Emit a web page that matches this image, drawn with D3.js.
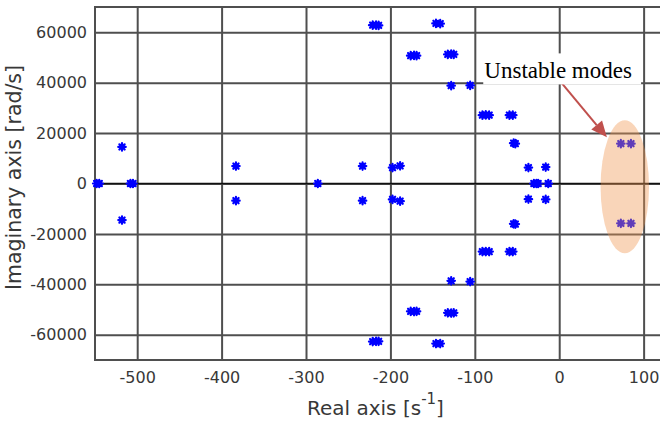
<!DOCTYPE html>
<html>
<head>
<meta charset="utf-8">
<script src="https://cdn.jsdelivr.net/npm/d3@7"></script>
<style>
  html, body { margin: 0; padding: 0; background: #fff; }
  svg { display: block; }
</style>
</head>
<body>
<svg id="chart" width="660" height="421"></svg>
<script>
// Eigenvalues (poles) of the system: real part [1/s] and imaginary part [rad/s]
const poleRe = [
  -548, -545, -508, -505, -518, -518,
  -383, -383, -286,
  -233, -233,
  -221, -217, -214, -221, -217, -214,
  -197.5, -188.5, -197.5, -188.5,
  -176, -172, -169, -176, -172, -169,
  -146, -141, -146, -141,
  -132, -128, -125, -132, -128, -125,
  -128, -105.5, -128, -105.5,
  -91, -87, -83, -91, -87, -83,
  -59, -55, -59, -55,
  -54, -52, -54, -52,
  -36.5, -16, -36.5, -16,
  -30, -27, -25, -13,
  73, 85, 73, 85
];
const poleIm = [
  0, 0, 0, 0, 14500, -14500,
  6900, -6800, 0,
  6900, -6800,
  62800, 62800, 62700, -62700, -62600, -62600,
  6300, 7000, -6300, -7000,
  50700, 50800, 50700, -50700, -50800, -50700,
  63500, 63400, -63500, -63500,
  51200, 51300, 51200, -51300, -51400, -51300,
  38800, 38900, -38600, -38900,
  27100, 27200, 27100, -27000, -27000, -27000,
  27100, 27100, -27000, -27000,
  16000, 15800, -16000, -16100,
  6300, 6500, -6200, -6300,
  0, 0, 0, 0,
  15800, 15800, -15800, -15800
];

const xTicks = [-500, -400, -300, -200, -100, 0, 100];
const yTicks = [-60000, -40000, -20000, 0, 20000, 40000, 60000];

const annotationText = "Unstable modes";

const svg = d3.select("#chart");
const plotLeft = 95, plotTop = 7, plotBottom = 360, plotRight = 660.5;

const x = d3.scaleLinear().domain([-550, 120]).range([plotLeft, plotRight]);
const y = d3.scaleLinear().domain([-70000, 70000]).range([plotBottom, plotTop]);

const gridColor = "#4f4f4f";
const labelColor = "#383838";
const font = "'DejaVu Sans', Verdana, sans-serif";
const plain = d => String(d);   // hyphen-minus labels

// Vertical gridlines + x tick labels
const gx = svg.append("g")
  .attr("transform", `translate(0,${plotBottom})`)
  .call(d3.axisBottom(x).tickValues(xTicks).tickSize(-(plotBottom - plotTop)).tickPadding(12).tickFormat(plain));
gx.select(".domain").remove();
gx.selectAll(".tick line").attr("stroke", gridColor).attr("stroke-width", 2);
gx.selectAll(".tick text").attr("fill", labelColor).style("font-family", font).style("font-size", "16px");

// Horizontal gridlines + y tick labels
const gy = svg.append("g")
  .attr("transform", `translate(${plotLeft},0)`)
  .call(d3.axisLeft(y).tickValues(yTicks).tickSize(-(plotRight - plotLeft)).tickPadding(8).tickFormat(plain));
gy.select(".domain").remove();
gy.selectAll(".tick line").attr("stroke", gridColor).attr("stroke-width", 2);
gy.selectAll(".tick text").attr("fill", labelColor).style("font-family", font).style("font-size", "16px");

// Zero line of the imaginary axis
svg.append("line")
  .attr("x1", plotLeft).attr("x2", plotRight)
  .attr("y1", y(0)).attr("y2", y(0))
  .attr("stroke", "#111").attr("stroke-width", 1.5);

// Plot frame (left, top, bottom)
svg.append("path")
  .attr("d", `M${plotRight},${plotTop}H${plotLeft}V${plotBottom}H${plotRight}`)
  .attr("fill", "none").attr("stroke", gridColor).attr("stroke-width", 2);

// Eight-armed star marker
const star = {
  draw(ctx, size) {
    const r = Math.sqrt(size) / 2;
    const d = r * Math.SQRT1_2;
    ctx.moveTo(-r, 0); ctx.lineTo(r, 0);
    ctx.moveTo(0, -r); ctx.lineTo(0, r);
    ctx.moveTo(-d, -d); ctx.lineTo(d, d);
    ctx.moveTo(-d, d); ctx.lineTo(d, -d);
  }
};

const poles = poleRe.map((re, i) => ({ re, im: poleIm[i] }));
svg.append("g")
  .selectAll("path")
  .data(poles)
  .join("path")
  .attr("d", d3.symbol().type(star).size(56))
  .attr("transform", d => `translate(${x(d.re)},${y(d.im)})`)
  .attr("fill", "none")
  .attr("stroke", "#0000ff")
  .attr("stroke-width", 2.2)
  .attr("stroke-linecap", "round");

// Highlight of the unstable pole pairs
svg.append("ellipse")
  .attr("cx", x(77.7)).attr("cy", y(-1300))
  .attr("rx", x(77.7 + 28.7) - x(77.7))
  .attr("ry", y(-1300) - y(25100))
  .attr("fill", "rgb(240,150,80)")
  .attr("fill-opacity", 0.4);

// Arrow pointing at the unstable modes
const a0 = [x(3), y(39800)], a1 = [x(56.5), y(18300)];
const ang = Math.atan2(a1[1] - a0[1], a1[0] - a0[0]);
const headLen = 16, headHalf = 7;
const base = [a1[0] - headLen * Math.cos(ang), a1[1] - headLen * Math.sin(ang)];
const arrowColor = "#c0504d";
svg.append("line")
  .attr("x1", a0[0]).attr("y1", a0[1])
  .attr("x2", base[0]).attr("y2", base[1])
  .attr("stroke", arrowColor).attr("stroke-width", 2);
svg.append("path")
  .attr("d", d3.line()([
    a1,
    [base[0] + headHalf * Math.sin(ang), base[1] - headHalf * Math.cos(ang)],
    [base[0] - headHalf * Math.sin(ang), base[1] + headHalf * Math.cos(ang)]
  ]) + "Z")
  .attr("fill", arrowColor);

// Annotation label on a white box
svg.append("rect")
  .attr("x", x(-90)).attr("y", y(51600))
  .attr("width", x(97) - x(-90))
  .attr("height", y(39300) - y(51600))
  .attr("fill", "#fff");
svg.append("text")
  .attr("x", x(-88.7)).attr("y", y(42000))
  .attr("fill", "#000")
  .style("font-family", "'Liberation Serif', 'Times New Roman', serif")
  .style("font-size", "23px")
  .text(annotationText);

// Axis titles
const xt = svg.append("text")
  .attr("x", 307).attr("y", 415)
  .attr("fill", labelColor)
  .style("font-family", font).style("font-size", "20px");
xt.append("tspan").text("Real axis [s");
xt.append("tspan").attr("dy", -11).style("font-size", "15px").text("-1");
xt.append("tspan").attr("dy", 11).text("]");

svg.append("text")
  .attr("transform", "translate(21,177.5) rotate(-90)")
  .attr("text-anchor", "middle")
  .attr("fill", labelColor)
  .style("font-family", font).style("font-size", "20.5px")
  .text("Imaginary axis [rad/s]");
</script>
</body>
</html>
